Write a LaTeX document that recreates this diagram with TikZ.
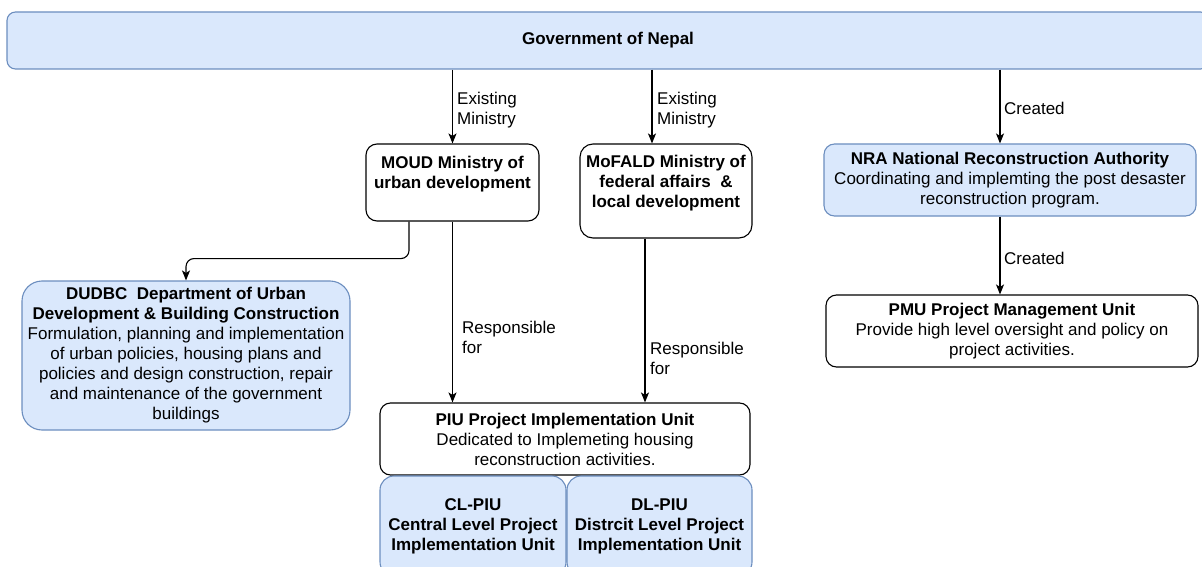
\documentclass[tikz,border=0pt]{standalone}
\usepackage{fontspec}
\setmainfont{Liberation Sans}
\usetikzlibrary{arrows.meta,calc}
\definecolor{bluefill}{HTML}{DAE8FC}
\definecolor{blueline}{HTML}{6C8EBF}
\tikzset{
  box/.style={draw=black, fill=white, line width=1.1pt, inner sep=0pt, align=center,
    font=\fontsize{17}{20}\selectfont},
  bluebox/.style={box, draw=blueline, fill=bluefill},
  arr/.style={line width=1.1pt, -{Stealth[length=10pt,width=8pt,inset=2.5pt]}},
  lbl/.style={inner sep=0pt, anchor=west, align=left, font=\fontsize{17}{20}\selectfont}
}
\begin{document}
\begin{tikzpicture}[x=1pt,y=-1pt]
\useasboundingbox (0,0) rectangle (1202,567);
\clip (0,0) rectangle (1202,567);
% nodes
\node[bluebox, rounded corners=8.5pt, minimum width=1202pt, minimum height=57pt] (gov) at (608,40.5) {\textbf{Government of Nepal}};
\node[box, rounded corners=11pt, minimum width=173pt, minimum height=77pt] (moud) at (452.5,182.5)
  {\textbf{MOUD Ministry of}\\\textbf{urban development}\\\mbox{}};
\node[box, rounded corners=13pt, minimum width=172pt, minimum height=94pt] (mofald) at (666,191)
  {\textbf{MoFALD Ministry of}\\\textbf{federal affairs \ \&}\\\textbf{local development}\\\mbox{}};
\node[bluebox, rounded corners=10.5pt, minimum width=372pt, minimum height=72pt] (nra) at (1010,180)
  {\textbf{NRA National Reconstruction Authority}\\Coordinating and implemting the post desaster\\reconstruction program.};
\node[box, rounded corners=10.5pt, minimum width=372pt, minimum height=72pt] (pmu) at (1012,331)
  {\textbf{PMU Project Management Unit}\\Provide high level oversight and policy on\\project activities.};
\node[bluebox, rounded corners=20pt, minimum width=328pt, minimum height=149pt] (dudbc) at (186,355.5)
  {\textbf{DUDBC \ Department of Urban}\\\textbf{Development \& Building Construction}\\Formulation, planning and implementation\\of urban policies, housing plans and\\policies and design construction, repair\\and maintenance of the government\\buildings};
\node[box, rounded corners=10.5pt, minimum width=370pt, minimum height=72pt] (piu) at (565,439)
  {\textbf{PIU Project Implementation Unit}\\Dedicated to Implemeting housing\\reconstruction activities.};
\node[bluebox, rounded corners=14pt, minimum width=186pt, minimum height=100pt] (cl) at (473,526)
  {\textbf{CL-PIU}\\\textbf{Central Level Project}\\\textbf{Implementation Unit}};
\node[bluebox, rounded corners=14pt, minimum width=185pt, minimum height=100pt] (dl) at (659.5,526)
  {\textbf{DL-PIU}\\\textbf{Distrcit Level Project}\\\textbf{Implementation Unit}};
% helper coordinates
\coordinate (m1) at ([xshift=-43.5pt]moud.south);
\coordinate (m2) at ([xshift=-14pt]mofald.north);
\coordinate (m3) at ([xshift=-21pt]mofald.south);
\coordinate (n1) at ([xshift=-10pt]nra.north);
% connectors
\draw[arr] (moud.north |- gov.south) -- (moud.north);
\draw[arr] (m2 |- gov.south) -- (m2);
\draw[arr] (n1 |- gov.south) -- (n1);
\draw[arr] (n1 |- nra.south) -- (n1 |- pmu.north);
\draw[arr, rounded corners=8pt] (m1) -- ++(0,37) -| (dudbc.north);
\draw[arr] (moud.south) -- (moud.south |- piu.north);
\draw[arr] (m3) -- (m3 |- piu.north);
% labels
\node[lbl] (l1) at (457,110) {Existing\\Ministry};
\node[lbl] (l2) at (657,110) {Existing\\Ministry};
\node[lbl] (l3) at (1004,108) {Created};
\node[lbl] (l4) at (1004,258) {Created};
\node[lbl] (l5) at (462,337) {Responsible\\for};
\node[lbl] (l6) at (650,358) {Responsible\\for};
\end{tikzpicture}
\end{document}
